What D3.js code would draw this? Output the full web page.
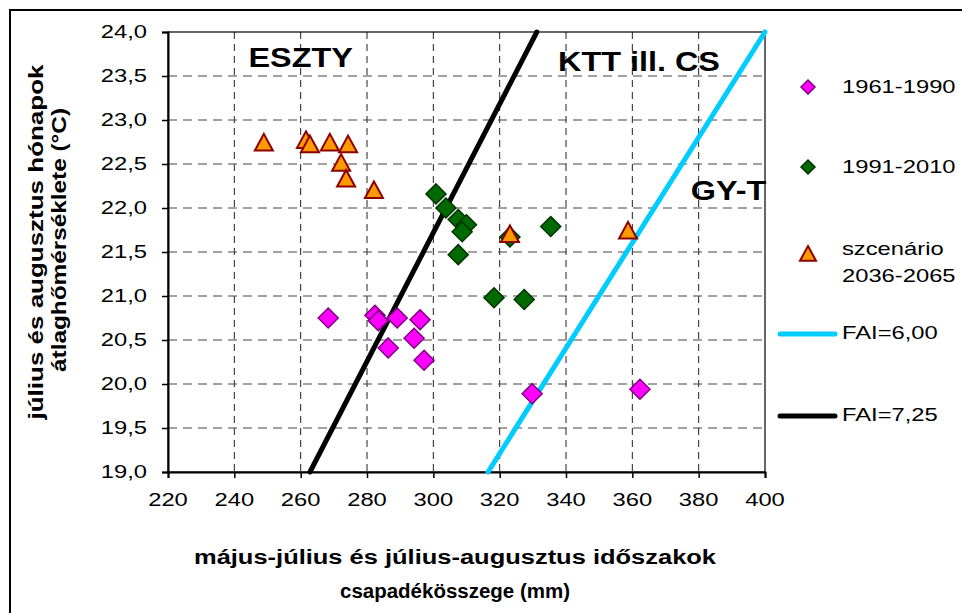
<!DOCTYPE html>
<html><head><meta charset="utf-8">
<script src="https://cdn.jsdelivr.net/npm/d3@7"></script>
<style>body{margin:0;background:#fff}svg{display:block}text{font-family:"Liberation Sans",Arial,sans-serif}</style>
</head><body><svg id="c" width="962" height="613"></svg>
<script>
// ---- data ----
const xTicks = [220,240,260,280,300,320,340,360,380,400];
const yTicks = [19.0,19.5,20.0,20.5,21.0,21.5,22.0,22.5,23.0,23.5,24.0];
const series1961 = [[268.3,20.75],[282.4,20.78],[283.4,20.72],[289.1,20.75],[296.0,20.73],[286.4,20.41],[294.2,20.52],[297.2,20.27],[329.8,19.89],[362.3,19.94]];
const series1991 = [[300.8,22.16],[303.8,22.00],[307.5,21.87],[310.0,21.81],[308.7,21.73],[307.5,21.47],[318.3,20.98],[327.4,20.96],[335.4,21.79],[323.1,21.67]];
const seriesScen = [[248.9,22.74],[261.6,22.77],[262.8,22.72],[268.8,22.74],[274.3,22.72],[272.2,22.51],[273.7,22.33],[282.1,22.20],[323.1,21.70],[358.7,21.74]];
const fai600 = [[316.5,19.0],[400,24.0]];
const fai725 = [[262.8,19.0],[331.2,24.0]];
const zoneLabels = [["ESZTY",260,23.71],["KTT ill. CS",362,23.67],["GY-T",389,22.2]];
const legendItems = ["1961-1990","1991-2010","szcenário|2036-2065","FAI=6,00","FAI=7,25"];
const xTitle = ["május-július és július-augusztus időszakok","csapadékösszege (mm)"];
const yTitle = ["július és augusztus hónapok","átlaghőmérséklete (°C)"];

const svg = d3.select("#c");
const L=168,R=765,T=32,B=472;
const x = d3.scaleLinear().domain([220,400]).range([L,R]);
const y = d3.scaleLinear().domain([19,24]).range([B,T]);
const SX = 1.25;

// outer frame
svg.append("rect").attr("x",10).attr("y",10).attr("width",1000).attr("height",1000).attr("fill","none").attr("stroke","#000").attr("stroke-width",2);

function stext(px,py,str,opt){
  const g = svg.append("g").attr("transform",`translate(${px},${py}) scale(${opt.sx||SX},${opt.sy||1})`+(opt.rot?` rotate(${opt.rot})`:""));
  const t = g.append("text").attr("text-anchor",opt.anchor||"start").attr("dominant-baseline","central")
    .attr("font-size",opt.size).attr("font-weight",opt.bold?"bold":"normal").attr("fill","#000").text(str);
  if(opt.len) t.attr("textLength",opt.len).attr("lengthAdjust","spacingAndGlyphs");
  return g;
}

// grid
const gg = svg.append("g");
xTicks.slice(1,-1).forEach(v=>gg.append("line").attr("x1",x(v)).attr("x2",x(v)).attr("y1",T).attr("y2",B).attr("stroke","#222").attr("stroke-dasharray","7,5"));
yTicks.slice(1,-1).forEach(v=>gg.append("line").attr("x1",L).attr("x2",R).attr("y1",y(v)).attr("y2",y(v)).attr("stroke","#444").attr("stroke-dasharray","9,6"));
svg.append("rect").attr("x",L).attr("y",T).attr("width",R-L).attr("height",B-T).attr("fill","none").attr("stroke","#000").attr("stroke-width",1.2);

// axes
const ax = svg.append("g").attr("transform",`translate(0,${B})`).call(d3.axisBottom(x).tickValues(xTicks).tickSize(6).tickFormat(""));
const ay = svg.append("g").attr("transform",`translate(${L},0)`).call(d3.axisLeft(y).tickValues(yTicks).tickSize(6).tickFormat(""));
[ax,ay].forEach(a=>{a.select(".domain").attr("stroke","#000").attr("stroke-width",2);a.selectAll(".tick line").attr("stroke","#000").attr("stroke-width",1.5);});
xTicks.forEach(v=>stext(x(v),500,String(v),{size:19,anchor:"middle"}));
yTicks.forEach(v=>stext(147,y(v),v.toFixed(1).replace(".",","),{size:19,anchor:"end"}));

// lines
const line = d3.line().x(d=>x(d[0])).y(d=>y(d[1]));
svg.append("path").datum(fai600).attr("d",line).attr("stroke","#00CCFF").attr("stroke-width",5).attr("fill","none").attr("stroke-linecap","round");
svg.append("path").datum(fai725).attr("d",line).attr("stroke","#000").attr("stroke-width",5).attr("fill","none").attr("stroke-linecap","round");

const diamond = s=>`M0,${-s}L${s},0L0,${s}L${-s},0Z`;
const tri = s=>`M0,${-s}L${s},${s*0.85}L${-s},${s*0.85}Z`;
function pts(data,path,fill,stroke,sw){
  svg.append("g").selectAll("path").data(data).join("path").attr("d",path)
   .attr("transform",d=>`translate(${x(d[0])},${y(d[1])})`).attr("fill",fill).attr("stroke",stroke).attr("stroke-width",sw);
}
pts(series1961,diamond(10),"#FF00FF","#800080",1.5);
pts(series1991,diamond(10),"#006A00","#003300",1.5);
pts(seriesScen,tri(9),"#FF9900","#8B0000",2);

// zone labels
zoneLabels.forEach(d=>stext(x(d[1]),y(d[2]),d[0],{size:27,bold:true,anchor:"middle",sx:1.2}));

// axis titles
stext(455,557,xTitle[0],{size:20,bold:true,anchor:"middle",sx:1,len:522});
stext(455,591,xTitle[1],{size:20,bold:true,anchor:"middle",sx:1,len:230});
stext(36,242,yTitle[0],{size:20,bold:true,anchor:"middle",sx:1,rot:-90,len:355});
stext(59,240,yTitle[1],{size:20,bold:true,anchor:"middle",sx:1,rot:-90,len:264});

// legend
const lg = svg.append("g");
lg.append("path").attr("d",diamond(7)).attr("transform","translate(808,87)").attr("fill","#FF00FF").attr("stroke","#800080").attr("stroke-width",1.5);
lg.append("path").attr("d",diamond(7)).attr("transform","translate(808,167)").attr("fill","#006A00").attr("stroke","#003300").attr("stroke-width",1.5);
lg.append("path").attr("d",tri(8)).attr("transform","translate(808,254)").attr("fill","#FF9900").attr("stroke","#8B0000").attr("stroke-width",2);
lg.append("line").attr("x1",780).attr("x2",835).attr("y1",334).attr("y2",334).attr("stroke","#00CCFF").attr("stroke-width",5).attr("stroke-linecap","round");
lg.append("line").attr("x1",780).attr("x2",835).attr("y1",416).attr("y2",416).attr("stroke","#000").attr("stroke-width",5).attr("stroke-linecap","round");
stext(842,87,legendItems[0],{size:19});
stext(842,167,legendItems[1],{size:19});
stext(842,249,legendItems[2].split("|")[0],{size:19});
stext(842,276,legendItems[2].split("|")[1],{size:19});
stext(842,333,legendItems[3],{size:19});
stext(842,415,legendItems[4],{size:19});
</script></body></html>
